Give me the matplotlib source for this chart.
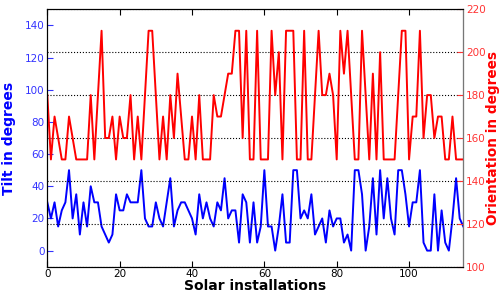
import matplotlib
matplotlib.use("Agg")
import matplotlib.pyplot as plt
import numpy as np

tilt = [30, 20, 30, 15, 25, 30, 50, 20, 35, 10,
        30, 15, 40, 30, 30, 15, 10, 5, 10, 35,
        25, 25, 35, 30, 30, 30, 50, 20, 15, 15,
        30, 20, 15, 30, 45, 15, 25, 30, 30, 25,
        20, 10, 35, 20, 30, 20, 15, 30, 25, 45,
        20, 25, 25, 5, 35, 30, 5, 30, 5, 15,
        50, 15, 15, 0, 15, 35, 5, 5, 50, 50,
        20, 25, 20, 35, 10, 15, 20, 5, 25, 15,
        20, 20, 5, 10, 0, 50, 50, 35, 0, 15,
        45, 10, 50, 20, 45, 20, 10, 50, 50, 35,
        15, 30, 30, 50, 5, 0, 0, 35, 0, 25,
        5, 0, 20, 45, 20, 15]

orientation = [180, 150, 170, 160, 150, 150, 170, 160, 150, 150,
               150, 150, 180, 150, 180, 210, 160, 160, 170, 150,
               170, 160, 160, 180, 150, 170, 150, 180, 210, 210,
               180, 150, 170, 150, 180, 160, 190, 170, 150, 150,
               170, 150, 180, 150, 150, 150, 180, 170, 170, 180,
               190, 190, 210, 210, 160, 210, 150, 150, 210, 150,
               150, 150, 210, 180, 200, 150, 210, 210, 210, 150,
               150, 210, 150, 150, 180, 210, 180, 180, 190, 180,
               150, 210, 190, 210, 180, 150, 150, 210, 180, 150,
               190, 150, 200, 150, 150, 150, 150, 180, 210, 210,
               150, 170, 170, 210, 160, 180, 180, 160, 170, 170,
               150, 150, 170, 150, 150, 150]

x = np.arange(len(tilt))

fig = plt.figure(figsize=(4.99, 2.96), dpi=100)
ax = fig.add_axes([0.0948, 0.099, 0.8337, 0.8696])
ax.plot(x, tilt, color='blue', lw=1.4)
ax.set_xlim(0, 115)
ax.set_ylim(-10, 150)
ax.set_yticks(np.arange(0, 141, 20))
ax.set_xticks(np.arange(0, 101, 20))
ax.set_ylabel('Tilt in degrees', color='blue', fontsize=10, fontweight='bold', labelpad=6)
ax.set_xlabel('Solar installations', color='black', fontsize=10, fontweight='bold', labelpad=0)
ax.tick_params(axis='y', colors='#3333ff', labelsize=7.5, direction='in', length=4, pad=2)
ax.tick_params(axis='x', labelsize=7.5, direction='in', length=4, top=True, pad=2)
ax.yaxis.label.set_color('blue')

ax2 = ax.twinx()
ax2.plot(x, orientation, color='red', lw=1.4)
ax2.set_ylim(100, 220)
ax2.set_yticks(np.arange(100, 221, 20))
ax2.set_ylabel('Orientation in degrees', color='red', fontsize=9.8, fontweight='bold', labelpad=0)
ax2.tick_params(axis='y', colors='#ff3333', labelsize=7.5, direction='in', length=4, pad=2)
ax2.grid(True, axis='y', color='black', linestyle=':', lw=0.8)
ax2.spines['right'].set_color('#777777')
ax.spines['left'].set_color('black')

fig.savefig('out.png', dpi=100)
